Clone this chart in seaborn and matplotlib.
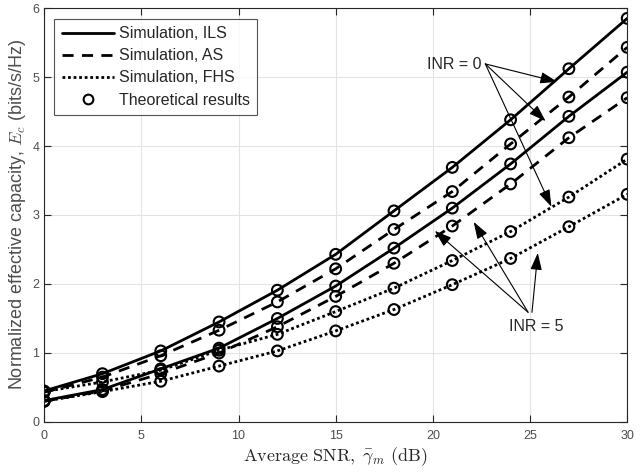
import matplotlib
matplotlib.use("Agg")
import matplotlib.pyplot as plt
from matplotlib.lines import Line2D
import seaborn as sns
import pandas as pd

# SNR grid (dB)
snr = [0, 3, 6, 9, 12, 15, 18, 21, 24, 27, 30]

# Normalized effective capacity
ils_inr0 = [0.45, 0.70, 1.03, 1.45, 1.91, 2.43, 3.06, 3.69, 4.38, 5.12, 5.85]
as_inr0 = [0.43, 0.65, 0.96, 1.33, 1.74, 2.22, 2.79, 3.34, 4.03, 4.71, 5.43]
ils_inr5 = [0.31, 0.47, 0.77, 1.07, 1.50, 1.97, 2.52, 3.10, 3.74, 4.43, 5.07]
as_inr5 = [0.30, 0.45, 0.70, 1.00, 1.38, 1.82, 2.30, 2.84, 3.45, 4.12, 4.70]
fhs_inr0 = [0.44, 0.58, 0.75, 1.04, 1.27, 1.60, 1.94, 2.34, 2.76, 3.26, 3.81]
fhs_inr5 = [0.30, 0.44, 0.59, 0.81, 1.03, 1.32, 1.63, 1.99, 2.37, 2.83, 3.30]

legend_labels = ["Simulation, ILS", "Simulation, AS", "Simulation, FHS", "Theoretical results"]

sns.set_style("whitegrid")
plt.rcParams["font.family"] = ["Liberation Sans", "DejaVu Sans"]
plt.rcParams["mathtext.fontset"] = "cm"

dash = (0, (4, 3))
dot = (0, (1, 1))
series = [
    (ils_inr0, "-"), (as_inr0, dash), (fhs_inr0, dot),
    (ils_inr5, "-"), (as_inr5, dash), (fhs_inr5, dot),
]

fig = plt.figure(figsize=(6.4, 4.72), dpi=100)
ax = fig.add_axes([0.069, 0.106, 0.911, 0.877])

for vals, ls in series:
    df = pd.DataFrame({"snr": snr, "ec": vals})
    sns.lineplot(data=df, x="snr", y="ec", ax=ax, color="black", lw=2.0,
                 linestyle=ls)
    sns.scatterplot(data=df, x="snr", y="ec", ax=ax, marker="o", s=60,
                    facecolor="none", edgecolor="black", linewidth=1.5,
                    zorder=5)

ax.set_xlim(0, 30)
ax.set_ylim(0, 6)
ax.set_xticks(range(0, 31, 5))
ax.set_yticks(range(0, 7))
ax.grid(color="#e3e3e3", lw=0.8)
for s in ax.spines.values():
    s.set_color("#262626")
    s.set_linewidth(0.8)
ax.tick_params(direction="in", length=5, top=True, right=True,
               labelsize=9, colors="#262626", labelcolor="#4d4d4d",
               bottom=True, left=True)
ax.tick_params(axis="x", pad=6)

ax.set_xlabel(r"$\mathrm{Average\ SNR,}\ \bar{\gamma}_m\ \mathrm{(dB)}$",
              fontsize=13, color="#262626", labelpad=2)
ax.set_ylabel(r"Normalized effective capacity, $E_c$ (bits/s/Hz)",
              fontsize=13, color="#4d4d4d", labelpad=3)

# annotations
arrow = dict(arrowstyle="-|>,head_length=0.65,head_width=0.22", color="black",
             lw=0.8, mutation_scale=16, shrinkA=0, shrinkB=0)
for tx, ty in [(26.4, 4.93), (25.8, 4.36), (26.1, 3.12)]:
    ax.annotate("", xy=(tx, ty), xytext=(22.7, 5.19), arrowprops=arrow)
ax.text(22.5, 5.18, "INR = 0", ha="right", va="center", fontsize=11.5)
for tx, ty, ox in [(20.1, 2.77, 24.9), (22.1, 2.90, 24.9), (25.4, 2.45, 25.1)]:
    ax.annotate("", xy=(tx, ty), xytext=(ox, 1.59), arrowprops=arrow)
ax.text(25.3, 1.39, "INR = 5", ha="center", va="center", fontsize=11.5)

handles = [
    Line2D([], [], color="black", lw=2.0, ls="-"),
    Line2D([], [], color="black", lw=2.0, ls=dash),
    Line2D([], [], color="black", lw=2.0, ls=dot),
    Line2D([], [], color="black", lw=0, marker="o", markersize=7,
           markerfacecolor="none", markeredgewidth=1.5),
]
leg = ax.legend(handles, legend_labels, loc="upper left", fontsize=11.5,
                frameon=True, fancybox=False, handlelength=3.3,
                handletextpad=0.3, borderpad=0.45, labelspacing=0.45,
                bbox_to_anchor=(0.004, 0.993))
leg.get_frame().set_edgecolor("#262626")
leg.get_frame().set_linewidth(0.8)

fig.savefig("out.png", dpi=100)
